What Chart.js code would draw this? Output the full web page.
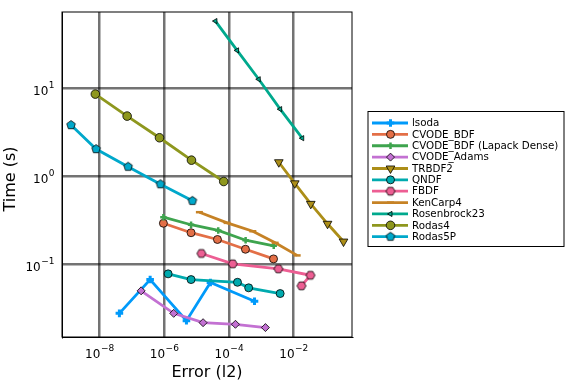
<!DOCTYPE html>
<html>
<head>
<meta charset="utf-8">
<script src="https://cdn.jsdelivr.net/npm/chart.js@4/dist/chart.umd.min.js"></script>
<style>
  html, body { margin: 0; padding: 0; background: #fff; }
</style>
</head>
<body>
<canvas id="chart" width="576" height="384"></canvas>
<script>
// work-precision: error (l2) vs time (s), log-log

const seriesNames = [
  "lsoda", "CVODE_BDF", "CVODE_BDF (Lapack Dense)", "CVODE_Adams", "TRBDF2",
  "QNDF", "FBDF", "KenCarp4", "Rosenbrock23", "Rodas4", "Rodas5P"
];

const lsodaErr   = [4.15e-8, 3.7e-7, 4.9e-6, 2.7e-5, 6.2e-4];
const lsodaTime  = [0.0277, 0.067, 0.0229, 0.062, 0.038];
const cvBdfErr   = [9.5e-7, 6.8e-6, 4.45e-5, 3.26e-4, 2.4e-3];
const cvBdfTime  = [0.292, 0.228, 0.191, 0.148, 0.115];
const cvLapErr   = [9.5e-7, 6.8e-6, 4.7e-5, 3.3e-4, 2.44e-3];
const cvLapTime  = [0.342, 0.281, 0.242, 0.1875, 0.162];
const adamsErr   = [1.95e-7, 1.98e-6, 1.6e-5, 1.6e-4, 1.35e-3];
const adamsTime  = [0.0499, 0.0277, 0.0217, 0.0208, 0.0191];
const trbdf2Err  = [3.5e-3, 1.09e-2, 3.4e-2, 0.112, 0.349];
const trbdf2Time = [1.44, 0.83, 0.485, 0.288, 0.181];
const qndfErr    = [1.33e-6, 6.8e-6, 1.85e-4, 4.1e-4, 3.85e-3];
const qndfTime   = [0.0778, 0.067, 0.0624, 0.054, 0.0465];
const fbdfErr    = [1.42e-5, 1.32e-4, 3.4e-3, 3.33e-2, 1.75e-2];
const fbdfTime   = [0.1325, 0.101, 0.0887, 0.075, 0.0569];
const kenErr     = [1.23e-5, 8.85e-5, 5.5e-4, 2.7e-3, 1.29e-2];
const kenTime    = [0.39, 0.295, 0.237, 0.175, 0.126];
const rosErr     = [3.85e-5, 1.8e-4, 8.4e-4, 3.85e-3, 1.85e-2];
const rosTime    = [57.7, 26.8, 12.6, 5.77, 2.7];
const rodas4Err  = [7.5e-9, 7.2e-8, 7.2e-7, 7.0e-6, 6.95e-5];
const rodas4Time = [8.55, 4.81, 2.73, 1.52, 0.87];
const rodas5Err  = [1.33e-9, 7.9e-9, 7.7e-8, 7.7e-7, 7.5e-6];
const rodas5Time = [3.8, 2.03, 1.28, 0.81, 0.525];

// ticks: base 10 with exponent written as superscript
const xTickValues = [1e-8, 1e-6, 1e-4, 1e-2];
const xTickExps   = ["−8", "−6", "−4", "−2"];
const yTickValues = [0.1, 1, 10];
const yTickExps   = ["−1", "0", "1"];

const FONT = "'DejaVu Sans', sans-serif";

// polygon markers that chart.js has no built-in style for
function polyMarker(n, r, fill, rot) {
  const s = Math.ceil(r * 2 + 3);
  const cv = document.createElement("canvas");
  cv.width = s; cv.height = s;
  const c = cv.getContext("2d");
  c.beginPath();
  for (let k = 0; k < n; k++) {
    const a = rot + k * 2 * Math.PI / n;
    const px = s / 2 + r * Math.sin(a), py = s / 2 - r * Math.cos(a);
    k ? c.lineTo(px, py) : c.moveTo(px, py);
  }
  c.closePath();
  c.fillStyle = fill; c.fill();
  c.lineWidth = 0.8; c.strokeStyle = "#000"; c.stroke();
  return cv;
}

const styles = [
  { color: "#009AFA", point: "cross",    r: 3.8, bw: 3,   edge: null },
  { color: "#E36F47", point: "circle",   r: 4,   bw: 0.8, edge: "#000" },
  { color: "#3EA44E", point: "cross",    r: 3.2, bw: 2.5, edge: null },
  { color: "#C371D2", point: "rectRot",  r: 4,   bw: 0.8, edge: "#000" },
  { color: "#AC8E18", point: "triangle", r: 5,   bw: 0.8, edge: "#000", rot: 180 },
  { color: "#00AAAE", point: "circle",   r: 4,   bw: 0.8, edge: "#000" },
  { color: "#ED5E93", point: polyMarker(6, 4.5, "#ED5E93", Math.PI / 6), r: 4.5, bw: 0, edge: null },
  { color: "#C68225", point: "line",     r: 3.5, bw: 2.5, edge: null },
  { color: "#00A98D", point: "triangle", r: 3,   bw: 0.8, edge: "#000", rot: -90 },
  { color: "#8E971E", point: "circle",   r: 4.3, bw: 0.8, edge: "#000" },
  { color: "#00A8CB", point: polyMarker(5, 4.5, "#00A8CB", 0), r: 4.5, bw: 0, edge: null }
];

const errs  = [lsodaErr, cvBdfErr, cvLapErr, adamsErr, trbdf2Err, qndfErr, fbdfErr, kenErr, rosErr, rodas4Err, rodas5Err];
const times = [lsodaTime, cvBdfTime, cvLapTime, adamsTime, trbdf2Time, qndfTime, fbdfTime, kenTime, rosTime, rodas4Time, rodas5Time];

const datasets = seriesNames.map((name, i) => {
  const st = styles[i];
  return {
    label: name,
    data: errs[i].map((x, j) => ({ x, y: times[i][j] })),
    showLine: true,
    borderColor: st.color,
    borderWidth: 2.8,
    pointStyle: st.point,
    pointRadius: st.r,
    pointRotation: st.rot || 0,
    pointBackgroundColor: st.color,
    pointBorderColor: st.edge || st.color,
    pointBorderWidth: st.bw,
    order: seriesNames.length - i,
  };
});

// frame around the plot area + tick labels with superscripts + y title
const framePlugin = {
  id: "frame",
  afterDraw(chart) {
    const { ctx, chartArea: a, scales } = chart;
    ctx.save();
    ctx.strokeStyle = "#000";
    ctx.lineWidth = 1;
    ctx.strokeRect(a.left, a.top, a.right - a.left, a.bottom - a.top);

    ctx.fillStyle = "#000";
    ctx.textBaseline = "alphabetic";
    const base = "12px " + FONT, sup = "9px " + FONT;
    xTickValues.forEach((v, i) => {
      const px = scales.x.getPixelForValue(v);
      ctx.font = base; const w1 = ctx.measureText("10").width;
      ctx.font = sup;  const w2 = ctx.measureText(xTickExps[i]).width;
      const x0 = px - (w1 + w2) / 2;
      ctx.font = base; ctx.fillText("10", x0, a.bottom + 21);
      ctx.font = sup;  ctx.fillText(xTickExps[i], x0 + w1 + 0.5, a.bottom + 14);
    });
    yTickValues.forEach((v, i) => {
      const py = scales.y.getPixelForValue(v);
      ctx.font = sup;  const w2 = ctx.measureText(yTickExps[i]).width;
      ctx.font = base; const w1 = ctx.measureText("10").width;
      const x0 = a.left - 8 - w2 - w1;
      ctx.fillText("10", x0, py + 6.5);
      ctx.font = sup;  ctx.fillText(yTickExps[i], x0 + w1 + 0.5, py - 0.5);
    });

    ctx.translate(11, 179);
    ctx.rotate(-Math.PI / 2);
    ctx.font = "16px " + FONT;
    ctx.textAlign = "center";
    ctx.textBaseline = "middle";
    ctx.fillText("Time (s)", 0, 0);
    ctx.restore();
  }
};

// legend box: line + marker + label
const legendPlugin = {
  id: "boxLegend",
  afterDraw(chart) {
    const ctx = chart.ctx;
    const box = { l: 368, t: 111.5, r: 564, b: 246.5 };
    ctx.save();
    ctx.fillStyle = "#fff";
    ctx.fillRect(box.l, box.t, box.r - box.l, box.b - box.t);
    ctx.strokeStyle = "#000";
    ctx.lineWidth = 1;
    ctx.strokeRect(box.l, box.t, box.r - box.l, box.b - box.t);
    ctx.font = "10.3px " + FONT;
    ctx.textBaseline = "middle";
    seriesNames.forEach((name, i) => {
      const st = styles[i];
      const y = 123 + i * 11.37;
      ctx.strokeStyle = st.color;
      ctx.lineWidth = 2.8;
      ctx.beginPath(); ctx.moveTo(372, y); ctx.lineTo(408, y); ctx.stroke();
      ctx.fillStyle = st.color;
      ctx.strokeStyle = st.edge || st.color;
      ctx.lineWidth = st.bw;
      Chart.helpers.drawPoint(ctx, { pointStyle: st.point, radius: st.r, rotation: st.rot || 0, borderWidth: st.bw }, 390.5, y);
      ctx.fillStyle = "#000";
      ctx.fillText(name, 412, y + 0.5);
    });
    ctx.restore();
  }
};

const gridColor = "rgba(0,0,0,0.55)";

new Chart(document.getElementById("chart"), {
  type: "scatter",
  data: { datasets },
  options: {
    responsive: false,
    animation: false,
    layout: { padding: { left: 0, right: 224, top: 12, bottom: 0 } },
    plugins: { legend: { display: false }, tooltip: { enabled: false } },
    elements: { line: { tension: 0 } },
    scales: {
      x: {
        type: "logarithmic",
        min: Math.pow(10, -9.134),
        max: Math.pow(10, -0.195),
        afterBuildTicks: s => { s.ticks = xTickValues.map(v => ({ value: v })); },
        afterFit: s => { s.height = 47; },
        ticks: { display: false },
        grid: { color: gridColor, lineWidth: 2.5, drawTicks: false },
        border: { color: "#000", width: 1 },
        title: { display: true, text: "Error (l2)", color: "#000", font: { family: FONT, size: 16 }, padding: { top: 2, bottom: 2 } }
      },
      y: {
        type: "logarithmic",
        min: Math.pow(10, -1.826),
        max: Math.pow(10, 1.864),
        afterBuildTicks: s => { s.ticks = yTickValues.map(v => ({ value: v })); },
        afterFit: s => { s.width = 62; },
        ticks: { display: false },
        grid: { color: gridColor, lineWidth: 2.5, drawTicks: false },
        border: { color: "#000", width: 1 }
      }
    }
  },
  plugins: [framePlugin, legendPlugin]
});
</script>
</body>
</html>
